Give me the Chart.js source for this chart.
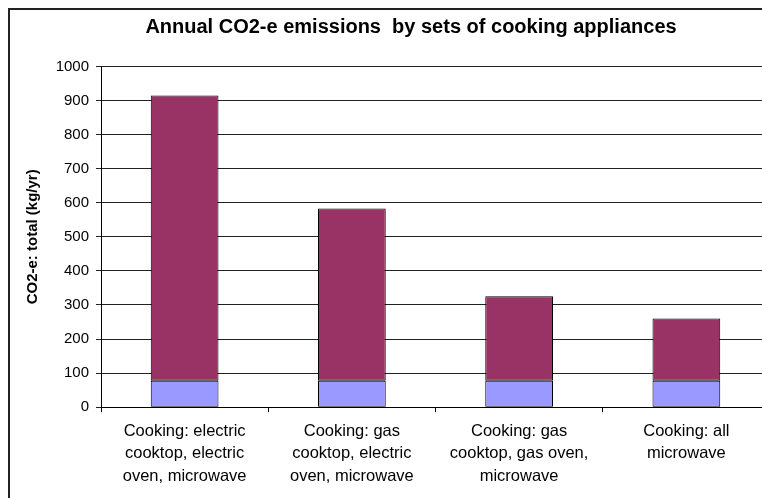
<!DOCTYPE html>
<html>
<head>
<meta charset="utf-8">
<script src="https://cdn.jsdelivr.net/npm/chart.js"></script>
<style>
  html, body { margin: 0; padding: 0; background: #fff; overflow: hidden; }
  #frame {
    position: absolute;
    left: 8px;
    top: 8px;
    width: 802px;
    height: 500px;
    border: 2px solid #222;
    background: #fff;
  }
  #co2Chart { display: block; }
</style>
</head>
<body>
<div id="frame">
  <canvas id="co2Chart" width="802" height="500"></canvas>
</div>
<script>
// Categories (one label line per array entry)
let applianceSets = [
    ["Cooking: electric", "cooktop, electric", "oven, microwave"],
    ["Cooking: gas", "cooktop, electric", "oven, microwave"],
    ["Cooking: gas", "cooktop, gas oven,", "microwave"],
    ["Cooking: all", "microwave"]
];

// Stacked series, kg/yr
let baseEmissions = [78, 78, 78, 78];
let cookingEmissions = [837, 505, 248, 182];

// Y axis
let yTickMin = 0;
let yTickMax = 1000;
let yTickStep = 100;

let fontFamily = "'Liberation Sans', Arial, Helvetica, sans-serif";

function loadCo2Chart(){
    let ctx = document.getElementById('co2Chart');
    new Chart(ctx, {
        type: 'bar',
        data: {
            labels: applianceSets,
            datasets: [
                {
                    label: "Base",
                    data: baseEmissions,
                    backgroundColor: '#9999ff',
                    borderColor: '#000000',
                    borderWidth: 1,
                    borderSkipped: false
                },
                {
                    label: "Cooking",
                    data: cookingEmissions,
                    backgroundColor: '#993366',
                    borderColor: '#000000',
                    borderWidth: 1,
                    borderSkipped: false
                }
            ]
        },
        options: {
            responsive: false,
            animation: false,
            devicePixelRatio: 1,
            layout: {
                padding: 0
            },
            datasets: {
                bar: {
                    categoryPercentage: 1.0,
                    barPercentage: 0.405
                }
            },
            plugins: {
                legend: { display: false },
                tooltip: { enabled: false },
                title: {
                    display: true,
                    text: 'Annual CO2-e emissions  by sets of cooking appliances',
                    color: '#000',
                    font: { family: fontFamily, size: 20, weight: 'bold', lineHeight: 1.2 },
                    padding: { top: 5, bottom: 27.5 }
                }
            },
            scales: {
                x: {
                    stacked: true,
                    offset: true,
                    grid: {
                        display: true,
                        offset: true,
                        drawOnChartArea: false,
                        drawTicks: true,
                        tickLength: 5,
                        color: '#000'
                    },
                    border: { display: true, color: '#000', width: 1 },
                    ticks: {
                        color: '#000',
                        padding: 8,
                        maxRotation: 0,
                        autoSkip: false,
                        font: { family: fontFamily, size: 16.5, lineHeight: 1.36 }
                    },
                    afterFit: function(scale){
                        scale.height = 102.8;
                    }
                },
                y: {
                    stacked: true,
                    min: yTickMin,
                    max: yTickMax,
                    grid: {
                        color: '#222',
                        lineWidth: 1,
                        drawTicks: true,
                        tickLength: 5
                    },
                    border: { display: true, color: '#000', width: 1 },
                    ticks: {
                        stepSize: yTickStep,
                        color: '#000',
                        padding: 7,
                        font: { family: fontFamily, size: 15 },
                        callback: function(value){
                            return String(value);
                        }
                    },
                    title: {
                        display: true,
                        text: 'CO2-e: total (kg/yr)',
                        color: '#000',
                        font: { family: fontFamily, size: 15, weight: 'bold', lineHeight: 1.2 },
                        padding: { top: 13.5, bottom: 0 }
                    },
                    afterFit: function(scale){
                        scale.width = 91;
                    }
                },
                // empty strip on the right so the plot runs past the frame edge
                // while the title stays centred on the whole frame
                rightGap: {
                    type: 'linear',
                    position: 'right',
                    display: true,
                    grid: { display: false },
                    border: { display: false },
                    ticks: { display: false },
                    afterFit: function(scale){
                        scale.width = 42;
                    }
                }
            }
        }
    });
}

loadCo2Chart();
</script>
</body>
</html>
